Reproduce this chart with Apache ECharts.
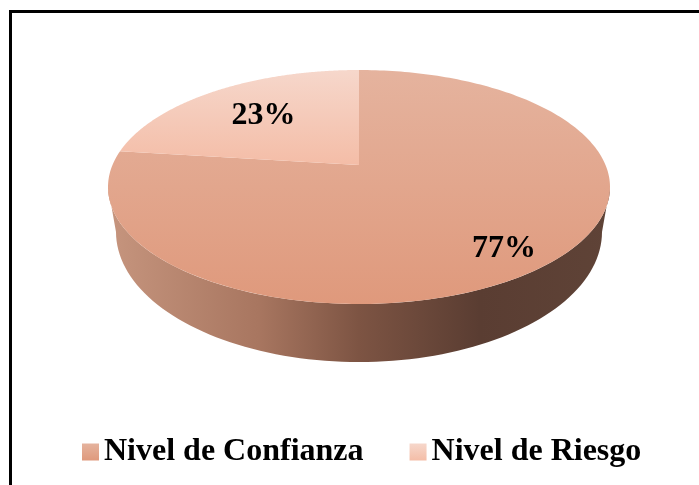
<!DOCTYPE html>
<html><head><meta charset="utf-8">
<style>html,body{margin:0;padding:0;background:#fff}#c{width:699px;height:485px}</style>
<script src="https://cdn.jsdelivr.net/npm/echarts@6/dist/echarts.min.js"></script>
</head><body><div id="c"></div>
<script>
const categories = ['Nivel de Confianza', 'Nivel de Riesgo'];
const shares = [77, 23];
const labels = ['77%', '23%'];
const labelRadius = [0.8, 0.66];
const labelNudge = [[-2, 7], [3, 2]];

// Perspective view of the disc
const CX = 359, CY = 187, RX = 251, RY = 117, KP = 0.188, APEX = -22;
const AX = RX * Math.sqrt(1 - KP * KP);
function project(frac, r) {            // frac: clockwise share of the turn from 12 o'clock
  const a = frac * 2 * Math.PI, u = r * Math.sin(a), v = r * Math.cos(a), w = 1 + KP * v;
  return [CX + AX * u / w, CY + (APEX - RY * v) / w];
}
const total = shares.reduce((a, b) => a + b, 0);
const starts = shares.map((_, i) => shares.slice(0, i).reduce((a, b) => a + b, 0) / total);

function grad(c0, c1) {
  return new echarts.graphic.LinearGradient(0, 0, 0, 1, [{offset: 0, color: c0}, {offset: 1, color: c1}]);
}
const fills = [grad('#E5B39E', '#DF997C'), grad('#F6D7CB', '#F4BDA7')];
const wallFill = new echarts.graphic.LinearGradient(0, 0, 1, 0, [
  {offset: 0, color: '#C6957E'}, {offset: 0.3, color: '#A87660'},
  {offset: 0.5, color: '#7D5443'}, {offset: 0.74, color: '#5A3D32'}, {offset: 1, color: '#5F4337'}
]);

function wallPoints() {
  const pts = [];
  const BCX = 359, BCY = 232, BRX = 243, BRY = 130;
  for (let d = 0; d <= 180; d += 2) {
    const t = d * Math.PI / 180;
    pts.push([CX + RX * Math.cos(t), CY + RY * Math.sin(t)]);
  }
  for (let d = 180; d >= 0; d -= 2) {
    const t = d * Math.PI / 180;
    pts.push([BCX + BRX * Math.cos(t), BCY + BRY * Math.sin(t)]);
  }
  return pts;
}

function sliceRender(i) {
  return function () {
    const f0 = starts[i], f1 = f0 + shares[i] / total;
    const pts = [project(0, 0)];
    const n = 240;
    for (let k = 0; k <= n; k++) pts.push(project(f0 + (f1 - f0) * k / n, 1));
    const lp = project((f0 + f1) / 2, labelRadius[i]);
    const children = [];
    if (i === 0) children.push({type: 'polygon', shape: {points: wallPoints()}, style: {fill: wallFill}});
    children.push({type: 'polygon', z2: 5, shape: {points: pts}, style: {fill: fills[i]}});
    children.push({type: 'text', z2: 10, style: {
      text: labels[i], x: lp[0] + labelNudge[i][0], y: lp[1] + labelNudge[i][1],
      fill: '#000', font: 'bold 32px "Liberation Serif"', align: 'center', verticalAlign: 'middle'
    }});
    return {type: 'group', children};
  };
}

const chart = echarts.init(document.getElementById('c'), null, {renderer: 'canvas'});
chart.setOption({
  animation: false,
  backgroundColor: '#fff',
  legend: {
    data: categories, left: 77, top: 431, itemWidth: 17, itemHeight: 17, itemGap: 46,
    icon: 'rect', selectedMode: false,
    textStyle: {fontFamily: 'Liberation Serif', fontWeight: 'bold', fontSize: 32, color: '#000'}
  },
  graphic: [{type: 'rect', silent: true, z: -1,
    shape: {x: 10.5, y: 11.5, width: 700, height: 490}, style: {fill: 'none', stroke: '#000', lineWidth: 3}}],
  series: categories.map((name, i) => ({
    type: 'custom', name, coordinateSystem: 'none', silent: true,
    z: i === 0 ? 2 : 3,
    itemStyle: {color: fills[i]},
    data: [shares[i]],
    renderItem: sliceRender(i)
  }))
});
</script></body></html>
